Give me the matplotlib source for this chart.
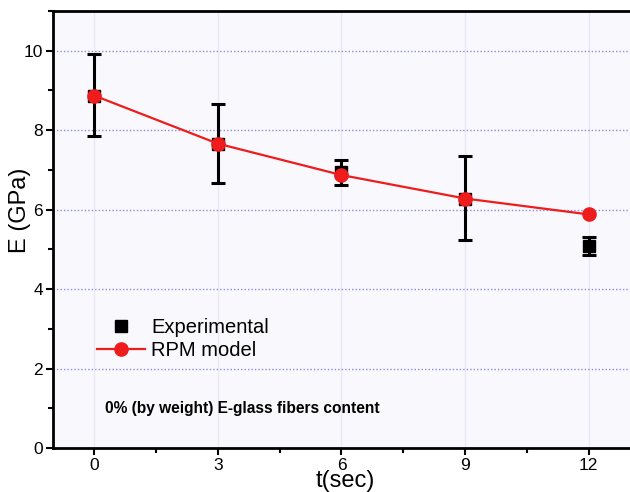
#!/usr/bin/env python3
import matplotlib
matplotlib.use("Agg")
import matplotlib.pyplot as plt
from matplotlib.lines import Line2D
from matplotlib.ticker import MultipleLocator

t_sec = [0, 3, 6, 9, 12]
exp_E = [8.87, 7.66, 6.95, 6.28, 5.08]
exp_err_lo = [1.02, 0.99, 0.33, 1.05, 0.22]
exp_err_hi = [1.05, 0.99, 0.30, 1.07, 0.23]
rpm_E = [8.87, 7.66, 6.87, 6.28, 5.88]


def main() -> None:
    plt.rcParams["font.family"] = ["Liberation Sans", "DejaVu Sans"]
    fig = plt.figure(figsize=(6.3, 4.92), dpi=100)
    ax = fig.add_axes([0.084, 0.089, 0.916, 0.889])
    ax.set_facecolor("#f9f9fd")

    for v in t_sec:
        ax.axvline(v, color="#ebe8f4", lw=1.0, zorder=0)
    for v in [2, 4, 6, 8, 10]:
        ax.axhline(v, color="#8a8ae0", lw=1.0, ls=(0, (1, 1.5)), zorder=0)

    ax.errorbar(t_sec, exp_E, yerr=[exp_err_lo, exp_err_hi], fmt="s", color="black",
                ms=8.5, elinewidth=2.2, capsize=5, capthick=2.2, zorder=3)
    ax.plot(t_sec, rpm_E, "-o", color="#ee1c1c", lw=1.6, ms=9.5, zorder=4)

    ax.set_xlim(-1, 13)
    ax.set_ylim(0, 11)
    ax.set_xticks(t_sec)
    ax.set_xticks([1.5, 4.5, 7.5, 10.5], minor=True)
    ax.yaxis.set_major_locator(MultipleLocator(2))
    ax.yaxis.set_minor_locator(MultipleLocator(1))
    ax.tick_params(which="major", direction="out", length=5, width=1.5, labelsize=12.5, pad=2)
    ax.tick_params(which="minor", direction="out", length=3.5, width=1.5)
    for side in ["left", "bottom", "top"]:
        ax.spines[side].set_linewidth(2)
    ax.spines["right"].set_visible(False)

    ax.set_xlabel("t(sec)", fontsize=17)
    ax.xaxis.set_label_coords(0.506, -0.049)
    ax.set_ylabel("E (GPa)", fontsize=17)
    ax.yaxis.set_label_coords(-0.038, 0.545)

    handles = [
        Line2D([], [], ls="none", marker="s", color="black", ms=8.5),
        Line2D([], [], ls="-", marker="o", color="#ee1c1c", lw=1.6, ms=9.5),
    ]
    ax.legend(handles, ["Experimental", "RPM model"], loc="upper left",
              bbox_to_anchor=(0.045, 0.34), frameon=False, fontsize=14.5,
              handlelength=2.4, handletextpad=0.3, labelspacing=0.2)
    ax.text(0.27, 1.0, "0% (by weight) E-glass fibers content", fontsize=11.2,
            fontweight="bold", va="center")

    fig.savefig("out.png", dpi=100)
    plt.close(fig)


if __name__ == "__main__":
    main()
